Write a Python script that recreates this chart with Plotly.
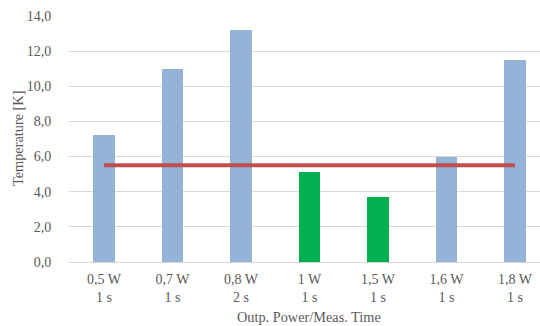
import plotly.graph_objects as go

# Measurement settings (output power / measuring time)
categories = ["0,5 W<br>1 s", "0,7 W<br>1 s", "0,8 W<br>2 s", "1 W<br>1 s",
              "1,5 W<br>1 s", "1,6 W<br>1 s", "1,8 W<br>1 s"]
temperature = [7.2, 11.0, 13.2, 5.1, 3.7, 6.0, 11.5]
threshold = [5.5] * len(categories)
bar_colors = ["#95B3D7", "#95B3D7", "#95B3D7", "#00B050",
              "#00B050", "#95B3D7", "#95B3D7"]

y_ticks = [0, 2, 4, 6, 8, 10, 12, 14]
y_tick_text = ["0,0", "2,0", "4,0", "6,0", "8,0", "10,0", "12,0", "14,0"]

x_idx = list(range(len(categories)))

fig = go.Figure()
fig.add_trace(go.Bar(
    x=x_idx, y=temperature, width=0.31,
    marker=dict(color=bar_colors, line=dict(width=0)),
    showlegend=False, hoverinfo="y",
))
fig.add_trace(go.Scatter(
    x=x_idx, y=threshold, mode="lines",
    line=dict(color="#C0504D", width=4),
    showlegend=False,
))

font = dict(family="Liberation Serif", size=14, color="#595959")
title_font = dict(family="Liberation Serif", size=14.3, color="#595959")

# plot area in pixels
plot_left, plot_width = 69, 471
plot_top, plot_height = 16, 246

fig.update_layout(
    width=540, height=326,
    margin=dict(l=plot_left, r=0, t=plot_top, b=326 - plot_top - plot_height),
    paper_bgcolor="white", plot_bgcolor="white",
    font=font,
    bargap=0,
    xaxis=dict(
        range=[-0.51, 6.365],
        tickmode="array", tickvals=x_idx, ticktext=categories,
        tickfont=font,
        showgrid=False, zeroline=False,
        showline=False,
        ticks="outside", ticklen=4, tickcolor="rgba(0,0,0,0)",
    ),
    yaxis=dict(
        range=[0, 14],
        tickmode="array", tickvals=y_ticks, ticktext=y_tick_text,
        tickfont=font,
        showgrid=True, gridcolor="#D9D9D9", gridwidth=1,
        zeroline=True, zerolinecolor="#D9D9D9", zerolinewidth=1,
        ticks="outside", ticklen=14, tickcolor="rgba(0,0,0,0)",
    ),
    annotations=[
        dict(
            text="Temperature [K]", textangle=-90, font=title_font,
            xref="paper", yref="paper",
            x=-(plot_left - 18) / plot_width, y=0.5,
            xanchor="center", yanchor="middle", showarrow=False,
        ),
        dict(
            text="Outp. Power/Meas. Time", font=title_font,
            xref="paper", yref="paper",
            x=(309 - plot_left) / plot_width,
            y=-(316.5 - (plot_top + plot_height)) / plot_height,
            xanchor="center", yanchor="middle", showarrow=False,
        ),
    ],
)

fig.write_html("out.html")
